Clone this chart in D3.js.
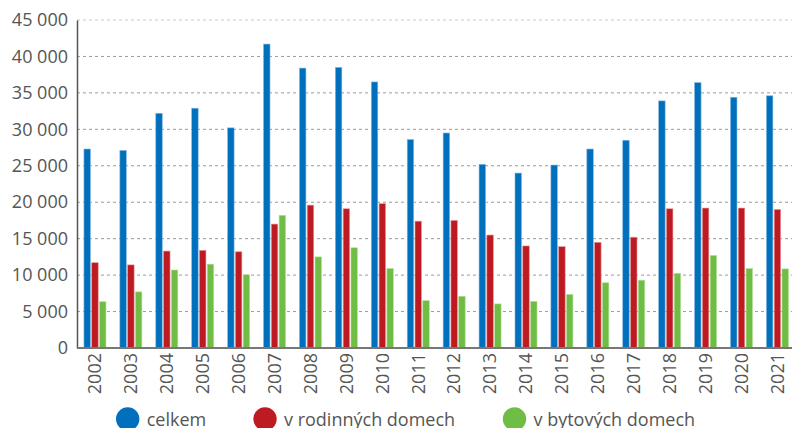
<!DOCTYPE html>
<html lang="cs">
<head>
    <meta charset="UTF-8">
    <title>Dokončené byty 2002–2021</title>
    <script src="https://d3js.org/d3.v7.min.js"></script>
    <style>
        body { margin: 0; background: #fff; font-family: 'Open Sans', sans-serif; }
        svg { display: block; }
        .tick text { fill: #555; }
    </style>
</head>
<body>
    <svg width="792" height="428"></svg>

    <script>
        const years = ["2002","2003","2004","2005","2006","2007","2008","2009","2010","2011",
                       "2012","2013","2014","2015","2016","2017","2018","2019","2020","2021"];
        const seriesNames = ["celkem", "v rodinných domech", "v bytových domech"];
        const celkem   = [27300, 27100, 32200, 32900, 30200, 41700, 38400, 38500, 36500, 28600,
                          29500, 25200, 24000, 25100, 27300, 28500, 33900, 36400, 34400, 34600];
        const rodinne  = [11700, 11400, 13300, 13400, 13200, 17000, 19600, 19100, 19800, 17400,
                          17500, 15500, 14000, 13900, 14500, 15200, 19100, 19200, 19200, 19000];
        const bytove   = [6350, 7700, 10700, 11500, 10050, 18200, 12500, 13750, 10900, 6500,
                          7100, 6050, 6400, 7350, 8950, 9300, 10250, 12700, 10900, 10850];
        const yTicks = [0, 5000, 10000, 15000, 20000, 25000, 30000, 35000, 40000, 45000];
        const colors = ["#0070bd", "#be1a22", "#6fbd45"];
        const strokes = ["#7fb6e0", "#e59498", "#b5df9c"];

        const svg = d3.select("svg");
        const margin = { left: 77, top: 20, bottom: 80 };
        const plotRight = 795.4;
        const height = 428;
        const y0 = height - margin.bottom;

        const x = d3.scaleBand()
            .domain(years)
            .range([margin.left, plotRight])
            .paddingInner(0.387)
            .paddingOuter(0.1935);

        const x1 = d3.scaleBand()
            .domain(d3.range(3))
            .range([0, x.bandwidth()])
            .paddingInner(0.17);

        const y = d3.scaleLinear()
            .domain([0, 45000])
            .range([y0, margin.top]);

        const fmt = v => d3.format(",")(v).replace(/,/g, " ");

        // gridlines
        svg.append("g")
            .selectAll("line")
            .data(yTicks.filter(d => d > 0))
            .join("line")
            .attr("x1", margin.left)
            .attr("x2", 792)
            .attr("y1", d => y(d))
            .attr("y2", d => y(d))
            .attr("stroke", d => d === 45000 ? "#c8c8c8" : "#9a9a9a")
            .attr("stroke-width", 1)
            .attr("stroke-dasharray", "3,3");

        // bars
        const data = years.map((yr, i) => ({ year: yr, values: [celkem[i], rodinne[i], bytove[i]] }));
        svg.append("g")
            .selectAll("g")
            .data(data)
            .join("g")
            .attr("transform", d => `translate(${x(d.year)},0)`)
            .selectAll("rect")
            .data(d => d.values.map((v, k) => ({ k, v })))
            .join("rect")
            .attr("x", d => x1(d.k))
            .attr("width", x1.bandwidth())
            .attr("y", d => y(d.v))
            .attr("height", d => y(0) - y(d.v))
            .attr("fill", d => colors[d.k])
            .attr("stroke", d => strokes[d.k])
            .attr("stroke-width", 0.6);

        // y axis
        const yAxis = svg.append("g")
            .attr("transform", `translate(${margin.left},0)`)
            .call(d3.axisLeft(y).tickValues(yTicks).tickFormat(fmt).tickSize(0).tickPadding(9));
        yAxis.select(".domain").attr("stroke", "#555").attr("stroke-width", 1.5);
        yAxis.selectAll(".tick text").attr("font-size", 18).attr("font-family", "'Open Sans', sans-serif");

        // x axis
        const xAxis = svg.append("g")
            .attr("transform", `translate(0,${y0})`)
            .call(d3.axisBottom(x).tickSize(0).tickPadding(0));
        xAxis.select(".domain").remove();
        svg.append("line")
            .attr("x1", margin.left).attr("x2", 792)
            .attr("y1", y0).attr("y2", y0)
            .attr("stroke", "#777").attr("stroke-width", 2);
        xAxis.selectAll(".tick text")
            .attr("font-size", 18)
            .attr("font-family", "'Open Sans', sans-serif")
            .attr("transform", "rotate(-90)")
            .attr("text-anchor", "end")
            .attr("dy", "0.35em")
            .attr("x", -5)
            .attr("y", 0);

        // legend
        const legendX = [127.7, 265, 514.5];
        const legend = svg.append("g")
            .selectAll("g")
            .data(seriesNames)
            .join("g")
            .attr("transform", (d, i) => `translate(${legendX[i]},419)`);
        legend.append("circle")
            .attr("r", 11.7)
            .attr("fill", (d, i) => colors[i]);
        legend.append("text")
            .attr("x", 19)
            .attr("y", 6.5)
            .attr("font-size", 18)
            .attr("fill", "#555")
            .text(d => d);
    </script>
</body>
</html>
